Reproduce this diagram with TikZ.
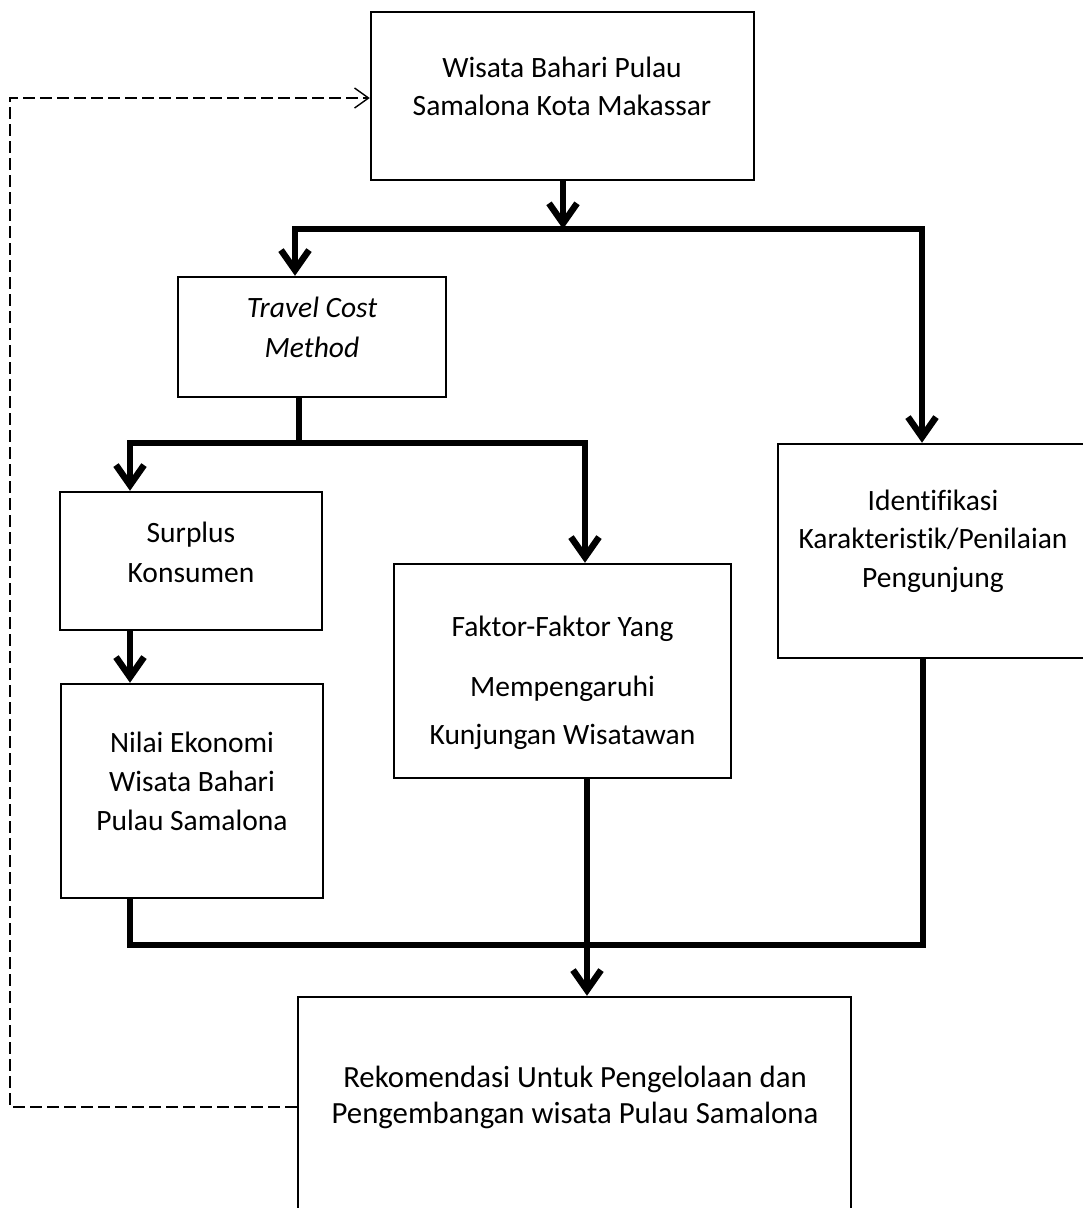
\documentclass[tikz,border=0pt]{standalone}
\usepackage{fontspec}
\setmainfont[Ligatures={NoCommon}]{Carlito}
\usetikzlibrary{arrows.meta}
\tikzset{
  box/.style={draw=black, line width=2.5pt, rectangle, inner sep=0pt},
  lbl/.style={align=center, inner sep=0pt, text=black},
  conn/.style={line width=6.5pt, line join=miter, line cap=butt},
  tiparrow/.style={conn, -{Straight Barb[length=20pt,width=28pt]}},
  fb/.style={line width=1.4pt, dash pattern=on 12pt off 5pt, -{Straight Barb[length=14pt,width=20pt,line width=1.4pt]}}
}
\newcommand{\fs}[1]{\fontsize{29.5}{#1}\selectfont}
\begin{document}
\begin{tikzpicture}[x=1pt,y=-1pt]
\useasboundingbox (0,0) rectangle (1083,1208);
\clip (0,0) rectangle (1083,1208);
\fill[white] (0,0) rectangle (1083,1208);

% boxes
\node[box, minimum width=383pt, minimum height=168pt] (top) at (562.5,96) {};
\node[box, minimum width=268pt, minimum height=120pt] (tcm) at (312,337) {};
\node[box, minimum width=262pt, minimum height=138pt] (surplus) at (191,561) {};
\node[box, minimum width=262pt, minimum height=214pt] (nilai) at (192,791) {};
\node[box, minimum width=337pt, minimum height=214pt] (faktor) at (562.5,671) {};
\node[box, minimum width=312pt, minimum height=214pt] (ident) at (934,551) {};
\node[box, minimum width=553pt, minimum height=215pt] (rekom) at (574.5,1104.5) {};

% texts
\node[lbl, font=\fs{38}] (ttop) at (562,86) {Wisata Bahari Pulau\\Samalona Kota Makassar};
\node[lbl, font=\fs{40}\itshape] (ttcm) at (312,327) {Travel Cost\\Method};
\node[lbl, font=\fs{40}] (tsur) at (191,552) {Surplus\\Konsumen};
\node[lbl, font=\fs{39}] (tnil) at (192,781) {Nilai Ekonomi\\Wisata Bahari\\Pulau Samalona};
\node[lbl, font=\fs{48}] (tfak) at (562.5,683) {Faktor-Faktor Yang\\[12pt]Mempengaruhi\\Kunjungan Wisatawan};
\node[lbl, font=\fs{38.5}] (tide) at (933,541) {Identifikasi\\Karakteristik/Penilaian\\Pengunjung};
\node[lbl, font=\fontsize{30.8}{36}\selectfont] (trek) at (575,1097) {Rekomendasi Untuk Pengelolaan dan\\Pengembangan wisata Pulau Samalona};

% junction coordinates
\coordinate (h1L) at (295,229);
\coordinate (h1R) at (922,229);
\coordinate (h1M) at (563,229);
\coordinate (h2L) at (130,443);
\coordinate (h2M) at (299,443);
\coordinate (h2R) at (585,443);
\coordinate (h3L) at (130,945);
\coordinate (h3M) at (587,945);
\coordinate (h3R) at (923,945);
\coordinate (d1) at (10,1107);
\coordinate (d2) at (10,98);

% level 1
\draw[tiparrow] (h1M |- top.south) -- (h1M);
\draw[tiparrow] (h1M) -| (h1L |- tcm.north);
\draw[tiparrow] (h1M) -| (h1R |- ident.north);

% level 2
\draw[conn] (h2M |- tcm.south) -- (h2M);
\draw[tiparrow] (h2M) -| (h2L |- surplus.north);
\draw[tiparrow] (h2M) -| (h2R |- faktor.north);
\draw[tiparrow] (h2L |- surplus.south) -- (h2L |- nilai.north);

% level 3
\draw[conn] (h3L |- nilai.south) |- (h3R) -- (h3R |- ident.south);
\draw[tiparrow] (h3M |- faktor.south) -- (h3M |- rekom.north);

% feedback
\draw[fb] (rekom.west |- d1) -- (d1) -- (d2) -- (d2 -| top.west);
\end{tikzpicture}
\end{document}
